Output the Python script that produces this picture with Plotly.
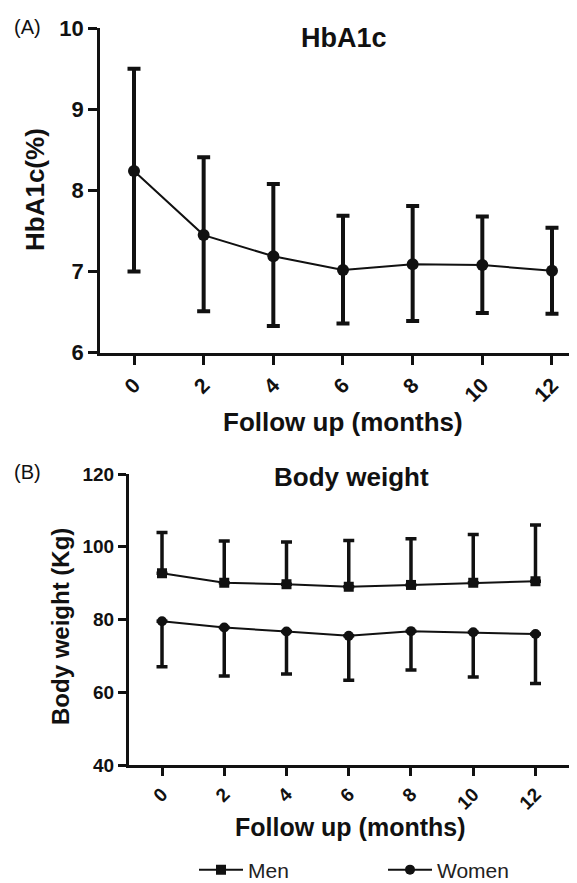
import plotly.graph_objects as go

W, H = 577, 883
OFF = 8  # the page body adds an 8px margin around the figure
FW, FH = W - OFF, H - OFF

# ---------------- data ----------------
months = [0, 2, 4, 6, 8, 10, 12]
month_labels = ["0", "2", "4", "6", "8", "10", "12"]

hba1c_mean = [8.24, 7.45, 7.19, 7.02, 7.09, 7.08, 7.01]
hba1c_upper = [9.50, 8.41, 8.08, 7.69, 7.81, 7.68, 7.54]
hba1c_lower = [7.00, 6.51, 6.33, 6.36, 6.39, 6.49, 6.48]

men_mean = [92.7, 90.1, 89.7, 89.0, 89.5, 90.1, 90.5]
men_upper = [103.9, 101.6, 101.3, 101.7, 102.2, 103.4, 106.0]

women_mean = [79.5, 77.8, 76.7, 75.5, 76.8, 76.5, 76.0]
women_lower = [67.0, 64.5, 65.0, 63.3, 66.1, 64.2, 62.4]

hba1c_ticks = [6, 7, 8, 9, 10]
weight_ticks = [40, 60, 80, 100, 120]

# ---------------- helpers ----------------
FONT = "Liberation Sans, Arial, sans-serif"
INK = "#111111"


def px(x):
    return (x - OFF) / FW


def py(y):
    return 1 - (y - OFF) / FH


fig = go.Figure()

# Panel A
fig.add_trace(go.Scatter(
    x=months, y=hba1c_mean, mode="lines+markers",
    line=dict(color=INK, width=2),
    marker=dict(symbol="circle", size=12, color=INK),
    error_y=dict(type="data", symmetric=False,
                 array=[u - m for u, m in zip(hba1c_upper, hba1c_mean)],
                 arrayminus=[m - l for l, m in zip(hba1c_lower, hba1c_mean)],
                 color=INK, thickness=4, width=6.5),
    showlegend=False, xaxis="x", yaxis="y", name="HbA1c",
))

# Panel B
fig.add_trace(go.Scatter(
    x=months, y=men_mean, mode="lines+markers", name="Men",
    line=dict(color=INK, width=2),
    marker=dict(symbol="square", size=10, color=INK),
    error_y=dict(type="data", symmetric=False,
                 array=[u - m for u, m in zip(men_upper, men_mean)],
                 arrayminus=[0] * len(men_mean),
                 color=INK, thickness=3.5, width=5.5),
    xaxis="x2", yaxis="y2",
))
fig.add_trace(go.Scatter(
    x=months, y=women_mean, mode="lines+markers", name="Women",
    line=dict(color=INK, width=2),
    marker=dict(symbol="circle", size=10, color=INK),
    error_y=dict(type="data", symmetric=False,
                 array=[0] * len(women_mean),
                 arrayminus=[m - l for l, m in zip(women_lower, women_mean)],
                 color=INK, thickness=3.5, width=5.5),
    xaxis="x2", yaxis="y2",
))

axis_common = dict(
    showline=True, linecolor=INK, linewidth=2.7, showgrid=False, zeroline=False,
    ticks="outside", tickwidth=2.7, tickcolor=INK,
)

fig.update_layout(
    width=FW, height=FH,
    margin=dict(l=0, r=0, t=0, b=0, autoexpand=False),
    paper_bgcolor="white", plot_bgcolor="white",
    font=dict(family=FONT, color=INK),
    xaxis=dict(**axis_common, domain=[px(100), 1.0], range=[-0.976, 12.718], ticklen=9,
               tickvals=months, ticktext=month_labels, tickangle=-45,
               tickfont=dict(size=21, weight="bold"), anchor="y"),
    yaxis=dict(**axis_common, domain=[py(352.7), py(28.3)], range=[6, 10], ticklen=9,
               tickvals=hba1c_ticks, tickfont=dict(size=22, weight="bold"),
               anchor="x"),
    xaxis2=dict(**axis_common, domain=[px(128.8), px(568.6)], range=[-1.067, 13.064], ticklen=8,
                tickvals=months, ticktext=month_labels, tickangle=-45,
                tickfont=dict(size=19, weight="bold"), anchor="y2"),
    yaxis2=dict(**axis_common, domain=[py(765), py(474)], range=[40, 120], ticklen=8,
                tickvals=weight_ticks, tickfont=dict(size=19, weight="bold"),
                anchor="x2"),
    legend=dict(orientation="h", x=px(194), xanchor="left", y=py(870), yanchor="middle",
                font=dict(size=21, color="#222222"), itemwidth=44,
                entrywidth=130, entrywidthmode="pixels",
                bgcolor="rgba(0,0,0,0)"),
)

ann = [
    dict(text="(A)", x=px(27), y=py(27), font=dict(size=20)),
    dict(text="(B)", x=px(27), y=py(472), font=dict(size=20)),
    dict(text="HbA1c", x=px(344), y=py(38), font=dict(size=27, weight="bold")),
    dict(text="Body weight", x=px(351), y=py(477), font=dict(size=26, weight="bold")),
    dict(text="Follow up (months)", x=px(343), y=py(422), font=dict(size=26, weight="bold")),
    dict(text="Follow up (months)", x=px(350), y=py(827), font=dict(size=25, weight="bold")),
    dict(text="HbA1c(%)", x=px(35), y=py(190), textangle=-90, font=dict(size=26, weight="bold")),
    dict(text="Body weight (Kg)", x=px(60), y=py(627), textangle=-90, font=dict(size=24, weight="bold")),
]
for a in ann:
    a.update(xref="paper", yref="paper", showarrow=False, xanchor="center", yanchor="middle")
    a["font"] = dict(family=FONT, color=INK, **a["font"])
fig.update_layout(annotations=ann)

fig.write_html("out.html")
